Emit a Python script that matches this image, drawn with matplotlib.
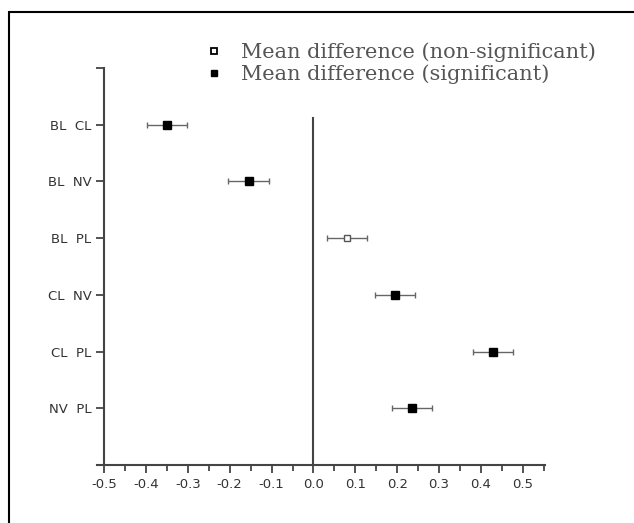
import matplotlib
matplotlib.use("Agg")
import matplotlib.pyplot as plt
from matplotlib.lines import Line2D
from matplotlib.patches import Rectangle
from matplotlib.ticker import MultipleLocator

# -------- DATA --------
pairs = ["BL  CL", "BL  NV", "BL  PL", "CL  NV", "CL  PL", "NV  PL"]
mean_diff = [-0.35, -0.155, 0.081, 0.194, 0.428, 0.235]
ci_half = [0.048, 0.048, 0.048, 0.048, 0.048, 0.048]
significant = [True, True, False, True, True, True]

# -------- FIGURE --------
fig = plt.figure(figsize=(6.34, 5.23), dpi=100)
ax = fig.add_axes([97 / 634, 1 - 465 / 523, 448 / 634, 397 / 523])

ypos = list(range(1, len(pairs) + 1))
for y, m, e, sig in zip(ypos, mean_diff, ci_half, significant):
    ax.errorbar(m, y, xerr=e, fmt="none", ecolor="#666666", elinewidth=1.0,
                capsize=2.5, capthick=1.0, zorder=2)
    ax.plot(m, y, marker="s", ms=5.5 if sig else 5, ls="none",
            mfc="black" if sig else "white", mec="black" if sig else "#555555",
            mew=1.0, zorder=3)

ax.axvline(0, ymin=0, ymax=(7 - 0.88) / 7, color="#444444", lw=1.5, zorder=1)

ax.set_xlim(-0.517, 0.553)
ax.set_ylim(7, 0)

for s in ["top", "right"]:
    ax.spines[s].set_visible(False)
ax.spines["left"].set_position(("data", -0.5))
for s in ["left", "bottom"]:
    ax.spines[s].set_color("#444444")
    ax.spines[s].set_linewidth(1.5)

ax.set_yticks([0] + ypos)
ax.set_yticklabels([""] + pairs)
ax.set_xticks([round(-0.5 + 0.1 * i, 1) for i in range(11)])
ax.set_xticklabels([f"{-0.5 + 0.1 * i:.1f}" for i in range(11)])
ax.xaxis.set_minor_locator(MultipleLocator(0.05))
ax.tick_params(axis="both", which="major", length=6, width=1.3, color="#444444",
               labelsize=9.5, labelcolor="#333333", pad=3)
ax.tick_params(axis="x", which="minor", length=4, width=1.3, color="#444444")

# legend
handles = [
    Line2D([], [], marker="s", ls="none", ms=4.5, mfc="white", mec="black", mew=1.3),
    Line2D([], [], marker="s", ls="none", ms=4.5, mfc="black", mec="black"),
]
leg = fig.legend(handles, ["Mean difference (non-significant)",
                           "Mean difference (significant)"],
                 loc="upper left", bbox_to_anchor=(193 / 634, 1 - 32 / 523),
                 frameon=False, handlelength=1.0, handletextpad=0.8,
                 labelspacing=0.1, borderpad=0,
                 prop={"family": "DejaVu Serif", "size": 15})
for t in leg.get_texts():
    t.set_color("#555555")

# outer border (cropped at right and bottom)
fig.patches.append(Rectangle((9 / 634, -0.1), 1.2, 1.1 - 12 / 523,
                             transform=fig.transFigure, fill=False,
                             lw=1.5, ec="black"))

fig.savefig("out.png", dpi=100)
